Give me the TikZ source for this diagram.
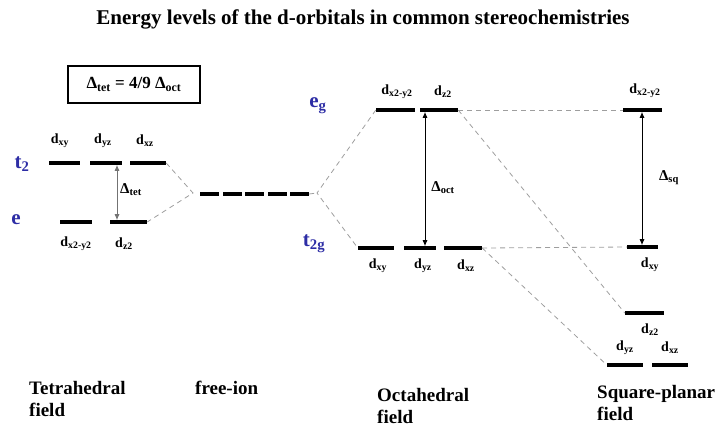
\documentclass[tikz,border=0pt]{standalone}
\usepackage{fontspec}
\setmainfont{Liberation Serif}
\usetikzlibrary{arrows.meta}
\definecolor{orbblue}{RGB}{45,45,165}

\begin{document}
\begin{tikzpicture}[
  x=1pt,y=-1pt,
  lvl/.style={fill=black, inner sep=0pt, minimum height=3.6pt},
  dlab/.style={font=\fontsize{14}{15}\selectfont\bfseries, inner sep=1pt},
  sym/.style={font=\fontsize{21}{22}\selectfont\bfseries, text=orbblue, inner sep=1pt},
  corr/.style={draw=black!38, line width=0.8pt, dash pattern=on 5pt off 4pt},
  split/.style={{Latex[length=6pt,width=5pt]}-{Latex[length=6pt,width=5pt]}, line width=0.9pt},
  dlt/.style={font=\fontsize{15}{16}\selectfont\bfseries, inner sep=1pt},
  field/.style={font=\fontsize{19}{22}\selectfont\bfseries, align=left, anchor=north west, inner sep=0pt}
]
  \useasboundingbox (0,0) rectangle (717,432);

  \node[font=\fontsize{21}{23}\selectfont\bfseries] (title) at (363,19) {Energy levels of the d-orbitals in common stereochemistries};

  \node[draw, line width=1.4pt, minimum width=132, minimum height=37, inner sep=0pt] (ratio) at (134,84.5)
    {\fontsize{17}{18}\selectfont\bfseries Δ\textsubscript{tet} = 4/9 Δ\textsubscript{oct}};

  % tetrahedral
  \node[lvl, minimum width=31] (txy) at (64.5,163) {};
  \node[lvl, minimum width=32] (tyz) at (106,163) {};
  \node[lvl, minimum width=36] (txz) at (148,163) {};
  \node[lvl, minimum width=32] (tx2) at (76,222) {};
  \node[lvl, minimum width=37] (tz2) at (128.5,222) {};

  \node[dlab] (ltxy) at (60,141) {d\textsubscript{xy}};
  \node[dlab] (ltyz) at (103,141) {d\textsubscript{yz}};
  \node[dlab] (ltxz) at (145,141) {d\textsubscript{xz}};
  \node[dlab] (ltx2) at (76,244) {d\textsubscript{x2-y2}};
  \node[dlab] (ltz2) at (124,244) {d\textsubscript{z2}};

  \node[sym] (st2) at (22,164) {t\textsubscript{2}};
  \node[sym] (se) at (16,220) {e};

  \coordinate (ta1) at (117,164.8);
  \coordinate (ta2) at (117,220.2);
  \draw[split, draw=black!55] (ta1) -- (ta2);
  \node[dlt] (dtet) at (131,190) {Δ\textsubscript{tet}};

  % free ion
  \node[lvl, minimum width=19] (f1) at (209,194) {};
  \node[lvl, minimum width=19] (f2) at (232.5,194) {};
  \node[lvl, minimum width=19] (f3) at (254.5,194) {};
  \node[lvl, minimum width=19] (f4) at (277,194) {};
  \node[lvl, minimum width=19] (f5) at (299.5,194) {};

  \coordinate (jl) at (193,193);
  \coordinate (jr) at (317,193);

  % octahedral
  \node[lvl, minimum width=39] (ox2) at (395.5,110) {};
  \node[lvl, minimum width=38] (oz2) at (439,110) {};
  \node[lvl, minimum width=36] (oxy) at (376,248) {};
  \node[lvl, minimum width=32] (oyz) at (420,248) {};
  \node[lvl, minimum width=38] (oxz) at (463,248) {};

  \node[dlab] (lox2) at (397,92) {d\textsubscript{x2-y2}};
  \node[dlab] (loz2) at (443,92) {d\textsubscript{z2}};
  \node[dlab] (loxy) at (378,266) {d\textsubscript{xy}};
  \node[dlab] (loyz) at (423,266) {d\textsubscript{yz}};
  \node[dlab] (loxz) at (466,266) {d\textsubscript{xz}};

  \node[sym] (seg) at (318,106) {e\textsubscript{g}};
  \node[sym] (st2g) at (314,244) {t\textsubscript{2g}};

  \coordinate (oa1) at (425,111.8);
  \coordinate (oa2) at (425,246.2);
  \draw[split] (oa1) -- (oa2);
  \node[dlt] (doct) at (443,188) {Δ\textsubscript{oct}};

  % square planar
  \node[lvl, minimum width=39] (sx2) at (642.5,110) {};
  \node[lvl, minimum width=31] (sxy) at (642.5,247) {};
  \node[lvl, minimum width=39] (sz2) at (644.5,313) {};
  \node[lvl, minimum width=36] (syz) at (625,365) {};
  \node[lvl, minimum width=36] (sxz) at (670,365) {};

  \node[dlab] (lsx2) at (645,91) {d\textsubscript{x2-y2}};
  \node[dlab] (lsxy) at (650,265) {d\textsubscript{xy}};
  \node[dlab] (lsz2) at (650,330) {d\textsubscript{z2}};
  \node[dlab] (lsyz) at (625,348) {d\textsubscript{yz}};
  \node[dlab] (lsxz) at (670,348) {d\textsubscript{xz}};

  \coordinate (sa1) at (642,111.8);
  \coordinate (sa2) at (642,245.2);
  \draw[split] (sa1) -- (sa2);
  \node[dlt] (dsq) at (669,178) {Δ\textsubscript{sq}};

  % correlation lines
  \draw[corr] (txz.east) -- (jl) -- (tz2.east);
  \draw[corr] (f5.east) -- (jr);
  \draw[corr] (ox2.west) -- (jr) -- (oxy.west);
  \draw[corr] (oz2.east) -- (sx2.west);
  \draw[corr] (oz2.east) -- (sz2.west);
  \draw[corr] (oxz.east) -- (sxy.west);
  \draw[corr] (oxz.east) -- (syz.west);

  % field names
  \node[field] (ntet) at (29,381) {Tetrahedral\\field};
  \node[field] (nfree) at (195,381) {free-ion};
  \node[field] (noct) at (377,388) {Octahedral\\field};
  \node[field] (nsq) at (597,385) {Square-planar\\field};
\end{tikzpicture}
\end{document}
